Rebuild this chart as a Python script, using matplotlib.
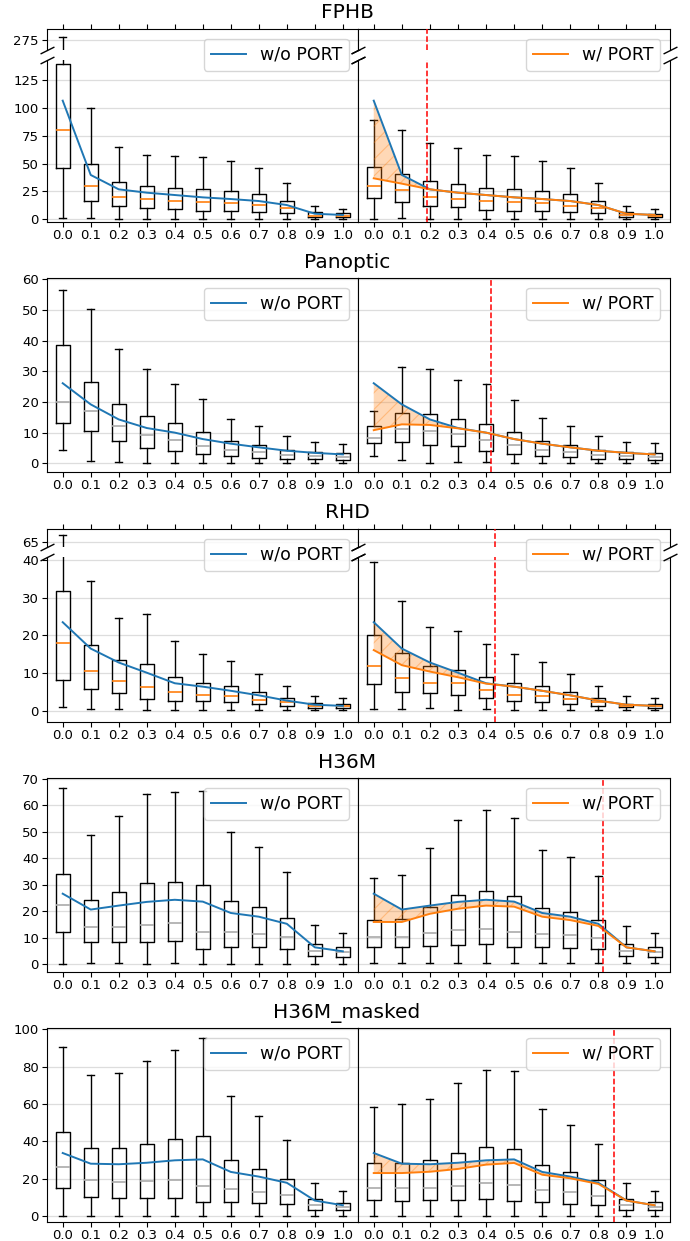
import matplotlib
matplotlib.use("Agg")
import matplotlib.pyplot as plt
from matplotlib.colors import to_rgba

W, H = 690, 1241
ratios = ['0.0', '0.1', '0.2', '0.3', '0.4', '0.5', '0.6', '0.7', '0.8', '0.9', '1.0']

# ---------------- FPHB ----------------
fphb_wo_q1 = [45.7, 16.2, 11.7, 10.4, 9.0, 7.5, 7.5, 6.6, 5.4, 2.1, 1.8]
fphb_wo_med = [79.9, 29.6, 20.3, 18.5, 16.2, 15.3, 14.4, 12.6, 9.9, 3.3, 3.0]
fphb_wo_q3 = [139, 49.4, 33.8, 29.6, 28.1, 26.9, 25.7, 22.7, 16.2, 6.3, 5.4]
fphb_wo_lo = [0.9, 1.0, 0.4, 0.7, 0.4, 0.4, 0.4, 0.3, 0.3, 0.3, 0.3]
fphb_wo_hi = [278, 99.6, 64.9, 58.0, 57.1, 56.2, 52.0, 46.3, 32.3, 11.9, 9.5]
fphb_wo_mean = [106.5, 39.8, 26.9, 23.9, 21.8, 19.7, 18.2, 16.4, 12.8, 5.0, 3.9]
fphb_w_q1 = [19.1, 15.5, 11.7, 10.8, 8.6, 7.5, 7.5, 6.6, 5.4, 1.8, 1.8]
fphb_w_med = [30.2, 26.3, 20.3, 18.5, 16.7, 15.3, 14.4, 12.3, 9.9, 3.6, 3.3]
fphb_w_q3 = [46.9, 40.9, 34.4, 32.0, 28.4, 26.9, 25.7, 22.4, 16.2, 6.3, 5.1]
fphb_w_lo = [0.7, 1.5, 0.4, 0.5, 0.4, 0.4, 0.4, 0.3, 0.3, 0.3, 0.3]
fphb_w_hi = [88.9, 79.9, 68.2, 63.7, 57.7, 56.5, 52.3, 45.7, 32.3, 11.6, 9.5]
fphb_w_mean = [36.8, 32.0, 26.9, 23.9, 21.8, 19.7, 18.2, 16.4, 12.8, 5.0, 3.9]
fphb_thr = 0.19

# ---------------- Panoptic ----------------
pan_wo_q1 = [13.0, 10.5, 7.2, 5.0, 4.1, 3.0, 2.5, 1.8, 1.5, 1.4, 1.0]
pan_wo_med = [20.0, 17.0, 12.1, 9.1, 7.5, 5.5, 4.2, 3.6, 2.7, 2.3, 2.0]
pan_wo_q3 = [38.7, 26.6, 19.2, 15.4, 13.0, 10.1, 7.3, 5.9, 4.5, 3.6, 3.2]
pan_wo_lo = [4.2, 0.7, 0.5, 0.2, 0.2, 0.1, 0.0, 0.0, 0.0, 0.0, 0.0]
pan_wo_hi = [56.4, 50.2, 37.2, 30.8, 25.7, 20.9, 14.5, 12.0, 9.0, 6.8, 6.2]
pan_wo_mean = [26.1, 19.2, 14.3, 11.5, 10.0, 7.9, 6.4, 5.2, 4.1, 3.4, 2.9]
pan_w_q1 = [6.5, 6.8, 6.1, 5.7, 4.1, 3.0, 2.5, 2.0, 1.4, 1.3, 1.0]
pan_w_med = [8.3, 11.1, 10.4, 9.5, 7.5, 6.0, 4.2, 3.6, 2.7, 2.4, 2.0]
pan_w_q3 = [12.3, 16.5, 16.1, 14.3, 12.9, 10.1, 7.4, 6.1, 4.5, 3.6, 3.3]
pan_w_lo = [2.4, 1.2, 0.1, 0.3, 0.3, 0.1, 0.0, 0.0, 0.0, 0.0, 0.0]
pan_w_hi = [17.0, 31.4, 30.7, 27.3, 25.8, 20.7, 14.9, 12.1, 9.0, 7.1, 6.5]
pan_w_mean = [10.8, 12.7, 12.5, 11.4, 10.0, 7.9, 6.4, 5.2, 4.1, 3.4, 2.9]
pan_thr = 0.417

# ---------------- RHD ----------------
rhd_wo_q1 = [8.1, 5.8, 4.8, 3.2, 2.6, 2.5, 2.2, 1.7, 1.2, 0.8, 0.8]
rhd_wo_med = [18.0, 10.6, 7.8, 6.4, 5.0, 4.2, 3.9, 2.9, 2.2, 1.2, 1.2]
rhd_wo_q3 = [31.9, 17.5, 13.4, 12.3, 8.9, 7.5, 6.6, 4.9, 3.4, 2.0, 1.8]
rhd_wo_lo = [0.9, 0.5, 0.4, 0.3, 0.3, 0.3, 0.2, 0.2, 0.1, 0.1, 0.1]
rhd_wo_hi = [67.7, 34.4, 24.5, 25.6, 18.4, 15.0, 13.1, 9.8, 6.5, 3.8, 3.5]
rhd_wo_mean = [23.5, 16.5, 12.8, 10.1, 7.3, 6.4, 5.3, 4.1, 2.7, 1.6, 1.3]
rhd_w_q1 = [7.2, 5.1, 4.8, 4.1, 3.3, 2.5, 2.3, 1.7, 1.2, 0.9, 0.8]
rhd_w_med = [11.9, 8.6, 7.3, 7.3, 5.6, 4.2, 3.8, 3.0, 2.2, 1.3, 1.2]
rhd_w_q3 = [20.2, 15.4, 11.9, 10.9, 9.0, 7.5, 6.6, 5.0, 3.4, 1.9, 1.8]
rhd_w_lo = [0.6, 0.4, 0.7, 0.2, 0.4, 0.3, 0.2, 0.2, 0.1, 0.1, 0.1]
rhd_w_hi = [39.5, 29.0, 22.3, 21.1, 17.7, 15.1, 13.0, 9.8, 6.5, 3.8, 3.4]
rhd_w_mean = [16.1, 12.1, 10.4, 8.9, 7.2, 6.4, 5.3, 4.1, 2.7, 1.6, 1.3]
rhd_thr = 0.432

# ---------------- H36M ----------------
h36_wo_q1 = [12.1, 8.2, 8.2, 8.2, 8.6, 5.8, 6.6, 6.3, 5.7, 3.2, 2.8]
h36_wo_med = [22.2, 14.1, 14.1, 14.9, 15.4, 12.0, 12.2, 11.5, 10.1, 5.0, 4.4]
h36_wo_q3 = [34.2, 24.3, 27.1, 30.5, 31.1, 29.8, 24.0, 21.4, 17.4, 7.7, 6.3]
h36_wo_lo = [0.0, 0.2, 0.2, 0.0, 0.2, 0.0, 0.0, 0.0, 0.0, 0.0, 0.0]
h36_wo_hi = [66.7, 48.7, 55.9, 64.4, 65.2, 65.6, 50.1, 44.4, 34.9, 14.6, 11.6]
h36_wo_mean = [26.6, 20.6, 22.1, 23.5, 24.3, 23.6, 19.3, 17.9, 15.2, 6.3, 4.8]
h36_w_q1 = [6.3, 6.3, 6.7, 7.1, 7.7, 6.3, 6.3, 6.1, 5.5, 3.0, 2.8]
h36_w_med = [10.1, 10.1, 11.6, 12.9, 13.4, 12.0, 11.5, 10.8, 9.7, 5.0, 4.4]
h36_w_q3 = [16.8, 17.2, 21.7, 26.0, 27.7, 25.9, 21.1, 19.8, 16.8, 7.6, 6.3]
h36_w_lo = [0.2, 0.2, 0.2, 0.2, 0.2, 0.2, 0.2, 0.2, 0.2, 0.2, 0.2]
h36_w_hi = [32.4, 33.7, 43.9, 54.4, 58.1, 55.1, 43.3, 40.5, 33.4, 14.5, 11.6]
h36_w_mean = [15.9, 15.9, 19.0, 20.9, 22.1, 21.7, 17.9, 16.6, 14.4, 6.3, 4.8]
h36_thr = 0.815

# ---------------- H36M_masked ----------------
msk_wo_q1 = [14.9, 10.5, 10.0, 10.0, 9.6, 7.8, 7.5, 7.1, 6.4, 3.6, 3.2]
msk_wo_med = [26.2, 19.4, 18.1, 19.0, 19.6, 16.4, 14.4, 13.2, 11.2, 6.0, 4.8]
msk_wo_q3 = [44.8, 36.5, 36.5, 38.8, 41.1, 42.7, 30.1, 25.4, 20.1, 9.1, 7.3]
msk_wo_lo = [0.4, 0.4, 0.2, 0.2, 0.4, 0.2, 0.2, 0.2, 0.2, 0.2, 0.2]
msk_wo_hi = [90.4, 75.3, 76.5, 82.9, 88.6, 95.0, 64.1, 53.7, 40.9, 17.6, 13.3]
msk_wo_mean = [33.8, 28.1, 27.8, 28.6, 29.9, 30.4, 23.7, 21.2, 17.9, 8.4, 5.9]
msk_w_q1 = [8.5, 8.2, 8.5, 8.5, 9.1, 8.2, 7.5, 6.8, 6.2, 3.6, 3.2]
msk_w_med = [14.9, 15.3, 15.3, 16.4, 17.6, 16.5, 14.1, 13.0, 10.7, 6.0, 5.0]
msk_w_q3 = [28.5, 28.6, 30.2, 33.6, 36.8, 35.8, 27.6, 23.8, 19.2, 9.1, 7.5]
msk_w_lo = [0.4, 0.2, 0.2, 0.2, 0.2, 0.2, 0.2, 0.2, 0.2, 0.2, 0.2]
msk_w_hi = [58.5, 59.8, 62.8, 71.4, 78.1, 77.4, 57.3, 48.6, 38.8, 17.6, 13.3]
msk_w_mean = [23.1, 23.1, 23.8, 25.3, 27.6, 28.5, 22.2, 20.3, 17.3, 8.4, 5.9]
msk_thr = 0.855


def stats(q1, med, q3, lo, hi):
    return [dict(med=m, q1=a, q3=b, whislo=l, whishi=h, fliers=[], label=r)
            for a, m, b, l, h, r in zip(q1, med, q3, lo, hi, ratios)]


# name, w/o stats, w/o mean, w/ stats, w/ mean, threshold, median colour,
# pixel layout (top axis, main axis), main ylim, yticks, top ylim, top ticks, title y
rows = [
    ('FPHB',
     stats(fphb_wo_q1, fphb_wo_med, fphb_wo_q3, fphb_wo_lo, fphb_wo_hi), fphb_wo_mean,
     stats(fphb_w_q1, fphb_w_med, fphb_w_q3, fphb_w_lo, fphb_w_hi), fphb_w_mean,
     fphb_thr, 'C1', (29.3, 50.0), (60.0, 221.7), (-2.15, 143), range(0, 126, 25),
     (265, 285), [275], 13),
    ('Panoptic',
     stats(pan_wo_q1, pan_wo_med, pan_wo_q3, pan_wo_lo, pan_wo_hi), pan_wo_mean,
     stats(pan_w_q1, pan_w_med, pan_w_q3, pan_w_lo, pan_w_hi), pan_w_mean,
     pan_thr, '#aaaaaa', None, (278.3, 472.3), (-2.93, 60.3), range(0, 61, 10),
     None, None, 262),
    ('RHD',
     stats(rhd_wo_q1, rhd_wo_med, rhd_wo_q3, rhd_wo_lo, rhd_wo_hi), rhd_wo_mean,
     stats(rhd_w_q1, rhd_w_med, rhd_w_q3, rhd_w_lo, rhd_w_hi), rhd_w_mean,
     rhd_thr, 'C1', (529.3, 547.0), (557.0, 721.7), (-2.9, 40.8), range(0, 41, 10),
     (63, 70), [65], 513),
    ('H36M',
     stats(h36_wo_q1, h36_wo_med, h36_wo_q3, h36_wo_lo, h36_wo_hi), h36_wo_mean,
     stats(h36_w_q1, h36_w_med, h36_w_q3, h36_w_lo, h36_w_hi), h36_w_mean,
     h36_thr, '#aaaaaa', None, (778.3, 972.3), (-3.14, 70.26), range(0, 71, 10),
     None, None, 763),
    ('H36M_masked',
     stats(msk_wo_q1, msk_wo_med, msk_wo_q3, msk_wo_lo, msk_wo_hi), msk_wo_mean,
     stats(msk_w_q1, msk_w_med, msk_w_q3, msk_w_lo, msk_w_hi), msk_w_mean,
     msk_thr, '#aaaaaa', None, (1028.3, 1222.3), (-3.2, 100.4), range(0, 101, 20),
     None, None, 1013),
]

plt.rcParams['hatch.linewidth'] = 0.8
fig = plt.figure(figsize=(W / 100, H / 100), dpi=100)

X_L = (47.3, 358.3)
X_R = (358.3, 670.0)
pos = list(range(1, 12))


def rect(xs, ys):
    return [xs[0] / W, 1 - ys[1] / H, (xs[1] - xs[0]) / W, (ys[1] - ys[0]) / H]


def draw_boxes(ax, st, medc):
    ax.bxp(st, positions=pos, widths=0.5, showfliers=False,
           boxprops=dict(color='k', lw=1), whiskerprops=dict(color='k', lw=1),
           capprops=dict(color='k', lw=1), medianprops=dict(color=medc, lw=1.2))
    ax.set_xlim(0.45, 11.55)
    ax.yaxis.grid(True, color='#dddddd', lw=0.9)
    ax.set_axisbelow(True)
    ax.tick_params(labelsize=9.5)
    ax.tick_params(axis='x', pad=1.5)
    ax.tick_params(axis='y', pad=2.5)


brk = dict(marker=[(-1, -0.5), (1, 0.5)], markersize=10, linestyle='none',
           color='k', mec='k', mew=1, clip_on=False)

for (name, st_wo, m_wo, st_w, m_w, thr, medc, top_px, main_px, ylim, yt,
     top_ylim, top_ticks, title_y) in rows:
    fig.text(0.503, 1 - title_y / H, name, ha='center', va='center', fontsize=14.5)
    for side, xs in (('L', X_L), ('R', X_R)):
        st = st_wo if side == 'L' else st_w
        ax = fig.add_axes(rect(xs, main_px))
        draw_boxes(ax, st, medc)
        ax.set_ylim(*ylim)
        ax.set_yticks(list(yt))
        ax.plot(pos, m_wo, color='C0', lw=1.4, zorder=3)
        if side == 'R':
            ax.fill_between(pos, m_wo, m_w, facecolor=to_rgba('C1', 0.3),
                            edgecolor=to_rgba('C1', 0.35), lw=0, hatch='//', zorder=2.5)
            ax.plot(pos, m_w, color='C1', lw=1.4, zorder=3.5)
            ax.axvline(1 + thr * 10, color='red', ls='--', lw=1.1, zorder=4)
            ax.tick_params(axis='y', left=False, labelleft=False)
        leg_ax = ax
        if top_px is not None:
            ax.spines['top'].set_visible(False)
            ax.plot([0, 1], [1, 1], transform=ax.transAxes, **brk)
            axt = fig.add_axes(rect(xs, top_px))
            draw_boxes(axt, st, medc)
            axt.set_ylim(*top_ylim)
            axt.set_yticks(top_ticks)
            axt.spines['bottom'].set_visible(False)
            axt.xaxis.tick_top()
            axt.tick_params(labeltop=False)
            axt.plot([0, 1], [0, 0], transform=axt.transAxes, **brk)
            if side == 'R':
                axt.axvline(1 + thr * 10, color='red', ls='--', lw=1.1, zorder=4)
                axt.tick_params(axis='y', left=False, labelleft=False)
            leg_ax = axt
        if side == 'L':
            h, = leg_ax.plot([], [], color='C0', lw=1.4, label='w/o PORT')
        else:
            h, = leg_ax.plot([], [], color='C1', lw=1.4, label='w/ PORT')
        leg_ax.legend(handles=[h], loc='upper right', fontsize=12.5,
                      borderaxespad=0.55)

fig.savefig('out.png', dpi=100)
